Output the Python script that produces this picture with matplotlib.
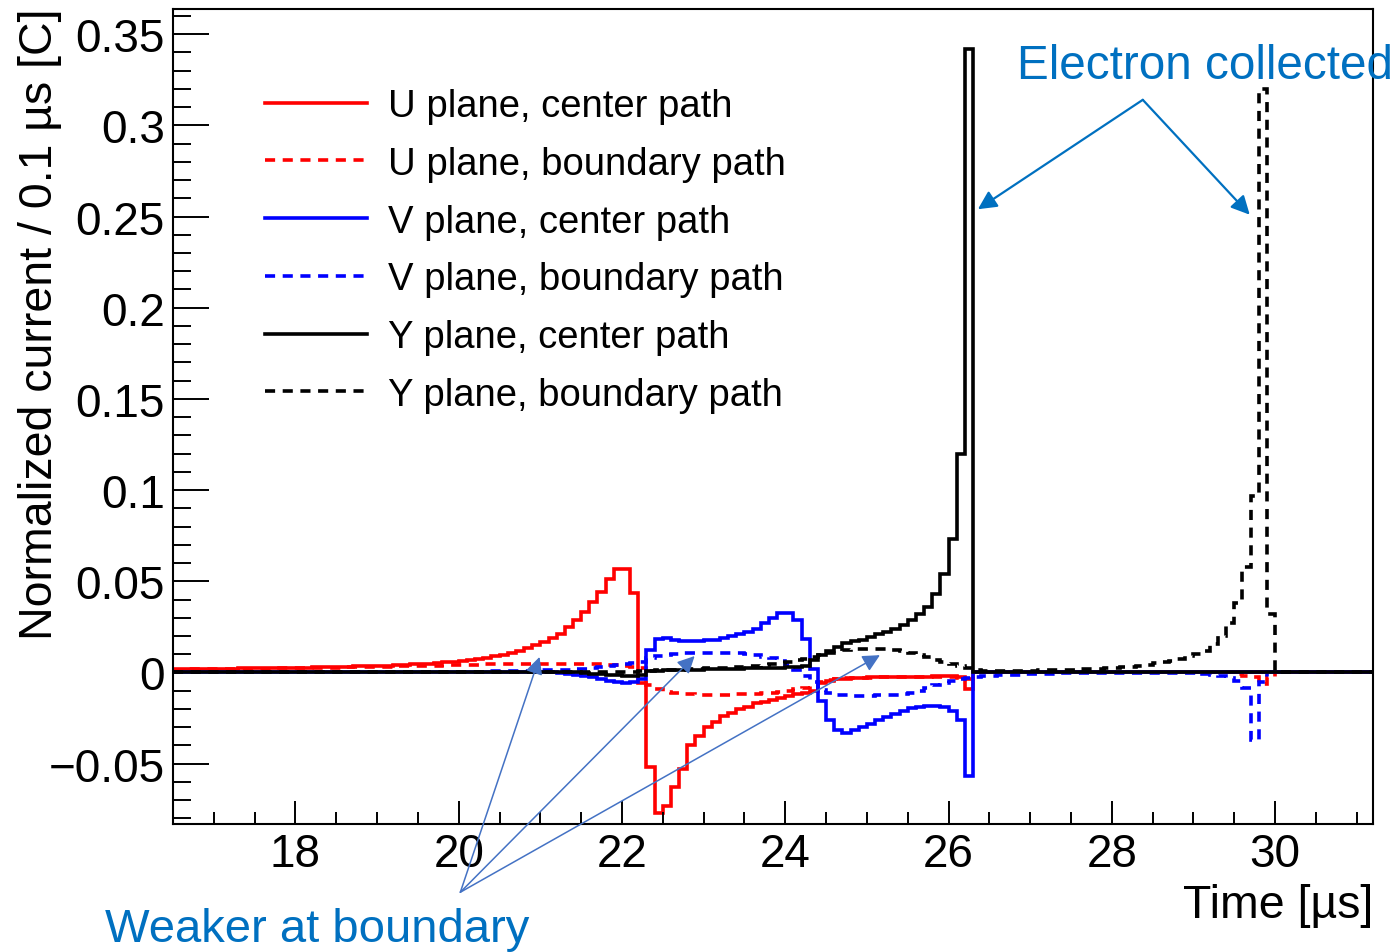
import numpy as np
import matplotlib
matplotlib.use("Agg")
import matplotlib.pyplot as plt
from matplotlib.ticker import MultipleLocator, FuncFormatter

plt.rcParams['font.family'] = ['Liberation Sans', 'DejaVu Sans']

# 0.1 us bins covering the drawn time window
t_start = 16.5
t_stop = 31.2
bin_width = 0.1

# U plane, center path (bins from 16.5 us)
u_center = [
    0.0018, 0.0018, 0.0019, 0.0019, 0.0020, 0.0020, 0.0021, 0.0021, 0.0022, 0.0022,
    0.0023, 0.0023, 0.0024, 0.0025, 0.0025, 0.0026, 0.0027, 0.0028, 0.0029, 0.0030,
    0.0031, 0.0032, 0.0033, 0.0034, 0.0035, 0.0036, 0.0038, 0.0040, 0.0042, 0.0044,
    0.0046, 0.0049, 0.0052, 0.0055, 0.0059, 0.0063, 0.0068, 0.0074, 0.0081, 0.0089,
    0.0098, 0.0108, 0.0120, 0.0133, 0.0148, 0.0165, 0.0190, 0.0210, 0.0250, 0.0285,
    0.0330, 0.0385, 0.0440, 0.0510, 0.0570, 0.0570, 0.0435, -0.0060, -0.0520, -0.0770,
    -0.0730, -0.0630, -0.0530, -0.0400, -0.0350, -0.0300, -0.0270, -0.0240, -0.0220, -0.0200,
    -0.0190, -0.0170, -0.0160, -0.0150, -0.0140, -0.0130, -0.0120, -0.0110, -0.0100, -0.0060,
    -0.0045, -0.0038, -0.0034, -0.0031, -0.0029, -0.0027, -0.0026, -0.0025, -0.0025, -0.0024,
    -0.0024, -0.0023, -0.0023, -0.0022, -0.0022, -0.0022, -0.0025, -0.0090,
]

# U plane, boundary path (bins from 16.5 us, plus a short tail from 29.5 us)
u_boundary = [
    0.0016, 0.0016, 0.0017, 0.0017, 0.0018, 0.0018, 0.0019, 0.0019, 0.0020, 0.0020,
    0.0021, 0.0021, 0.0022, 0.0022, 0.0023, 0.0023, 0.0024, 0.0025, 0.0025, 0.0026,
    0.0027, 0.0028, 0.0028, 0.0029, 0.0030, 0.0031, 0.0032, 0.0033, 0.0034, 0.0035,
    0.0036, 0.0037, 0.0038, 0.0039, 0.0040, 0.0041, 0.0042, 0.0043, 0.0044, 0.0045,
    0.0045, 0.0046, 0.0047, 0.0047, 0.0048, 0.0048, 0.0049, 0.0049, 0.0049, 0.0049,
    0.0048, 0.0047, 0.0045, 0.0043, 0.0040, 0.0036, 0.0031, 0.0022, -0.0070, -0.0090,
    -0.0105, -0.0112, -0.0117, -0.0120, -0.0121, -0.0122, -0.0122, -0.0122, -0.0121, -0.0120,
    -0.0119, -0.0117, -0.0115, -0.0112, -0.0108, -0.0100, -0.0092, -0.0085, -0.0070, -0.0050,
    -0.0040, -0.0035, -0.0032, -0.0030, -0.0029, -0.0028, -0.0027, -0.0026, -0.0026, -0.0025,
    -0.0025, -0.0024, -0.0024, -0.0024, -0.0024, -0.0025, -0.0028, -0.0035,
]
u_boundary_tail_start = 29.5
u_boundary_tail = [-0.0010, -0.0020, -0.0025, -0.0065, -0.0025]

# V plane, center path (bins from 16.5 us)
v_center = [
    0.0003, 0.0003, 0.0003, 0.0003, 0.0003, 0.0003, 0.0003, 0.0003, 0.0003, 0.0003,
    0.0003, 0.0003, 0.0003, 0.0003, 0.0003, 0.0003, 0.0003, 0.0003, 0.0003, 0.0003,
    0.0003, 0.0003, 0.0003, 0.0003, 0.0003, 0.0003, 0.0003, 0.0003, 0.0003, 0.0003,
    0.0003, 0.0003, 0.0003, 0.0003, 0.0003, 0.0003, 0.0003, 0.0003, 0.0003, 0.0003,
    0.0003, 0.0003, 0.0003, 0.0003, 0.0003, 0.0002, 0.0000, -0.0005, -0.0010, -0.0015,
    -0.0020, -0.0025, -0.0035, -0.0045, -0.0055, -0.0060, -0.0050, -0.0035, 0.0125, 0.0182,
    0.0190, 0.0180, 0.0175, 0.0174, 0.0174, 0.0176, 0.0180, 0.0190, 0.0198, 0.0210,
    0.0222, 0.0240, 0.0270, 0.0300, 0.0325, 0.0325, 0.0285, 0.0185, 0.0020, -0.0155,
    -0.0260, -0.0315, -0.0330, -0.0315, -0.0300, -0.0280, -0.0262, -0.0245, -0.0228, -0.0210,
    -0.0195, -0.0187, -0.0182, -0.0185, -0.0192, -0.0210, -0.0260, -0.0570,
]

# V plane, boundary path (bins from 16.5 us up to 29.9 us)
v_boundary = [
    0.0002, 0.0002, 0.0002, 0.0002, 0.0002, 0.0002, 0.0002, 0.0002, 0.0002, 0.0002,
    0.0002, 0.0002, 0.0002, 0.0002, 0.0002, 0.0002, 0.0002, 0.0002, 0.0002, 0.0002,
    0.0002, 0.0002, 0.0002, 0.0002, 0.0002, 0.0002, 0.0002, 0.0002, 0.0002, 0.0002,
    0.0003, 0.0003, 0.0003, 0.0004, 0.0004, 0.0004, 0.0005, 0.0005, 0.0006, 0.0006,
    0.0007, 0.0007, 0.0008, 0.0009, 0.0010, 0.0011, 0.0012, 0.0013, 0.0015, 0.0017,
    0.0020, 0.0024, 0.0029, 0.0034, 0.0040, 0.0045, 0.0050, 0.0055, 0.0077, 0.0090,
    0.0098, 0.0102, 0.0104, 0.0105, 0.0106, 0.0106, 0.0106, 0.0106, 0.0105, 0.0104,
    0.0100, 0.0095, 0.0087, 0.0077, 0.0062, 0.0042, 0.0015, -0.0020, -0.0050, -0.0095,
    -0.0115, -0.0123, -0.0126, -0.0127, -0.0127, -0.0127, -0.0126, -0.0125, -0.0123, -0.0120,
    -0.0112, -0.0100, -0.0085, -0.0070, -0.0056, -0.0045, -0.0037, -0.0030, -0.0025, -0.0022,
    -0.0019, -0.0016, -0.0014, -0.0012, -0.0010, -0.0008, -0.0007, -0.0006, -0.0005, -0.0005,
    -0.0004, -0.0004, -0.0004, -0.0003, -0.0003, -0.0003, -0.0003, -0.0003, -0.0003, -0.0003,
    -0.0003, -0.0003, -0.0003, -0.0003, -0.0003, -0.0003, -0.0010, -0.0015, -0.0020, -0.0030,
    -0.0045, -0.0085, -0.0370, -0.0050,
]

# Y plane, center path (bins from 16.5 us)
y_center = [0.0] * 50 + [
    -0.0003, -0.0006, -0.0010, -0.0013, -0.0016, -0.0018, -0.0018, -0.0015, 0.0008, 0.0010,
    0.0012, 0.0013, 0.0014, 0.0015, 0.0016, 0.0017, 0.0018, 0.0019, 0.0020, 0.0021,
    0.0022, 0.0023, 0.0024, 0.0025, 0.0026, 0.0028, 0.0030, 0.0035, 0.0070, 0.0095,
    0.0120, 0.0140, 0.0160, 0.0170, 0.0180, 0.0194, 0.0210, 0.0220, 0.0240, 0.0260,
    0.0286, 0.0320, 0.0360, 0.0430, 0.0540, 0.0730, 0.1200, 0.3420,
]

# Y plane, boundary path (bins from 16.5 us up to 29.9 us)
y_boundary = [0.0] * 55 + [
    0.0003, 0.0005, 0.0007, 0.0009, 0.0011,
    0.0012, 0.0014, 0.0016, 0.0018, 0.0020, 0.0022, 0.0024, 0.0026, 0.0028, 0.0031,
    0.0034, 0.0037, 0.0041, 0.0046, 0.0052, 0.0059, 0.0067, 0.0076, 0.0086, 0.0097,
    0.0107, 0.0116, 0.0122, 0.0127, 0.0130, 0.0131, 0.0130, 0.0127, 0.0122, 0.0116,
    0.0107, 0.0096, 0.0084, 0.0071, 0.0058, 0.0045, 0.0033, 0.0022, 0.0013, 0.0009,
    0.0008, 0.0008, 0.0009, 0.0009, 0.0010, 0.0010, 0.0011, 0.0012, 0.0013, 0.0014,
    0.0015, 0.0017, 0.0019, 0.0021, 0.0023, 0.0026, 0.0029, 0.0032, 0.0036, 0.0040,
    0.0050, 0.0058, 0.0065, 0.0075, 0.0088, 0.0100, 0.0120, 0.0155, 0.0200, 0.0270,
    0.0380, 0.0580, 0.0970, 0.3200, 0.0320,
]

labels = [
    "U plane, center path", "U plane, boundary path",
    "V plane, center path", "V plane, boundary path",
    "Y plane, center path", "Y plane, boundary path",
]

edges = np.round(np.arange(t_start, t_stop + bin_width / 2, bin_width), 2)
nbins = len(edges) - 1


def to_bins(vals, start=t_start):
    out = np.zeros(nbins)
    i0 = int(round((start - t_start) / bin_width))
    out[i0:i0 + len(vals)] = vals
    return out


u_b = to_bins(u_boundary) + to_bins(u_boundary_tail, u_boundary_tail_start)
hists = [
    (to_bins(u_center), 'red', '-'),
    (u_b, 'red', '--'),
    (to_bins(v_center), 'blue', '-'),
    (to_bins(v_boundary), 'blue', '--'),
    (to_bins(y_center), 'black', '-'),
    (to_bins(y_boundary), 'black', '--'),
]

W, H = 1398, 953
fig = plt.figure(figsize=(W / 100, H / 100), dpi=100)
ax = fig.add_axes([173 / W, 1 - 825 / H, (1373 - 173) / W, (825 - 10) / H])

lw = 2.6
dash = (0, (2.8, 2.1))
handles = []
for (vals, col, ls), lab in zip(hists, labels):
    style = dash if ls == '--' else '-'
    ax.stairs(vals, edges, color=col, lw=lw, linestyle=style, baseline=None)
    h, = ax.plot([], [], color=col, lw=lw, linestyle=style)
    handles.append(h)

ax.set_xlim(t_start, t_stop)
ax.set_ylim(-0.0831, 0.3638)

ax.xaxis.set_major_locator(MultipleLocator(2))
ax.xaxis.set_minor_locator(MultipleLocator(0.5))
ax.yaxis.set_major_locator(MultipleLocator(0.05))
ax.yaxis.set_minor_locator(MultipleLocator(0.01))
ax.yaxis.set_major_formatter(FuncFormatter(lambda v, p: ("%g" % round(v, 3)).replace('-', '\u2212')))

ax.tick_params(axis='x', which='major', direction='in', length=16.5, width=1.4, labelsize=33, pad=6)
ax.tick_params(axis='x', which='minor', direction='in', length=8.5, width=1.4)
ax.tick_params(axis='y', which='major', direction='in', length=26, width=1.4, labelsize=33, pad=6)
ax.tick_params(axis='y', which='minor', direction='in', length=13, width=1.4)
for s in ax.spines.values():
    s.set_linewidth(1.5)

fig.text(62 / W, 1 - 8 / H, "Normalized current / 0.1 \u00b5s [C]", fontsize=33.5,
         rotation=90, rotation_mode='anchor', ha='right', va='bottom')
fig.text(1373 / W, 1 - 918 / H, "Time [\u00b5s]", fontsize=33.5, ha='right', va='baseline')

leg = ax.legend(handles, labels, loc='upper left', bbox_to_anchor=(265 / W, 1 - 89 / H),
                bbox_transform=fig.transFigure, frameon=False, fontsize=27.5,
                handlelength=2.67, handletextpad=0.55, labelspacing=0.57,
                borderpad=0, borderaxespad=0)

# annotations
dark_blue = '#0070C0'
light_blue = '#4472C4'
ax.text(26.84, 0.3330, "Electron collected", color=dark_blue, fontsize=34.3,
        ha='left', va='center', clip_on=False)
for tip in [(26.36, 0.254), (29.69, 0.251)]:
    ax.annotate('', xy=tip, xytext=(28.38, 0.314), annotation_clip=False,
                arrowprops=dict(arrowstyle='-|>', color=dark_blue, lw=1.6,
                                mutation_scale=28, shrinkA=0, shrinkB=0))

fig.text(105 / W, 11 / H, "Weaker at boundary", color=dark_blue, fontsize=34,
         ha='left', va='baseline')
for tip in [(20.99, 0.0085), (22.89, 0.0090), (25.16, 0.0095)]:
    ax.annotate('', xy=tip, xytext=(20.02, -0.1205), annotation_clip=False,
                arrowprops=dict(arrowstyle='-|>', color=light_blue, lw=1.1,
                                mutation_scale=26, shrinkA=0, shrinkB=0))

fig.savefig("out.png", dpi=100)
